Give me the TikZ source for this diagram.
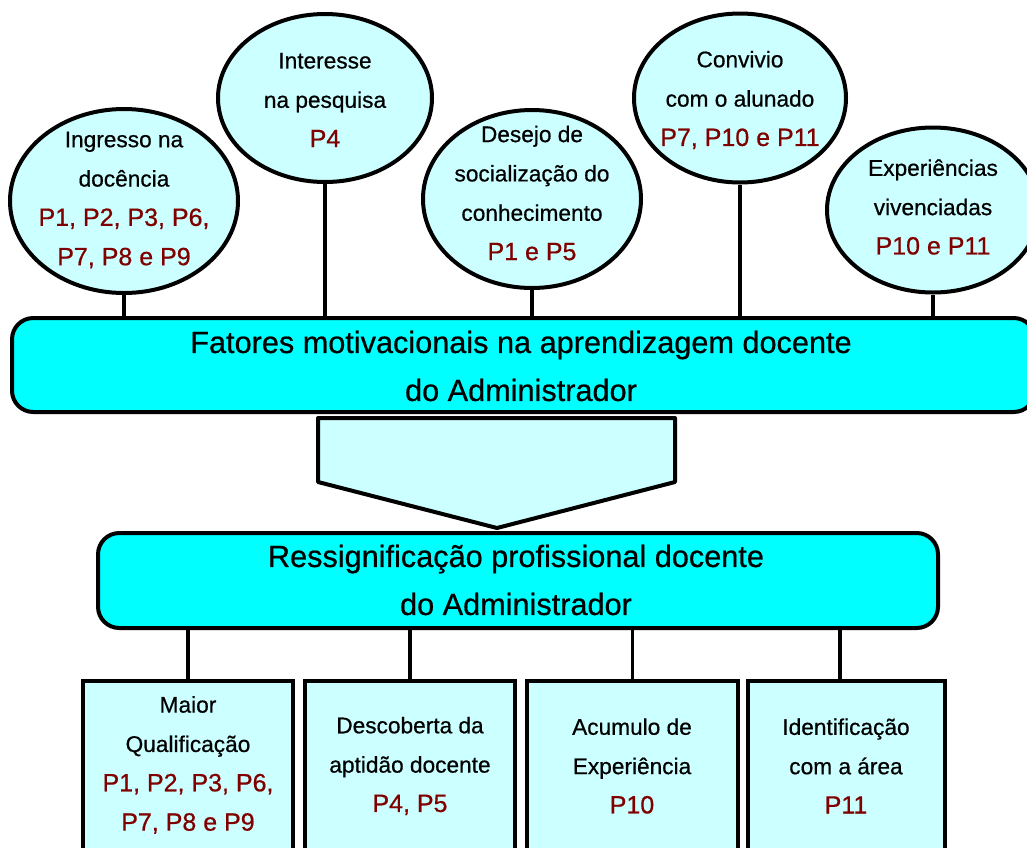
\documentclass[tikz,border=0pt]{standalone}
\usepackage{fontspec}
\setmainfont{Liberation Sans}[FakeBold=0.6]
\usetikzlibrary{shapes.geometric}

\definecolor{paleCyan}{RGB}{204,255,255}
\definecolor{bandCyan}{RGB}{0,255,255}
\definecolor{partRed}{RGB}{128,0,0}

\tikzset{every picture/.style={line width=0.75pt}}
\tikzset{
  bubble/.style={ellipse, draw, line width=3pt, fill=paleCyan, inner sep=0pt},
  band/.style={rectangle, rounded corners=16pt, draw, line width=3pt, fill=bandCyan, inner sep=0pt},
  box/.style={rectangle, draw, line width=3pt, fill=paleCyan, inner sep=0pt, minimum height=127.5pt},
  lbl/.style={align=center, inner sep=0pt, font=\fontsize{17}{29.5}\selectfont},
  bandlbl/.style={align=center, inner sep=0pt, font=\fontsize{23}{36}\selectfont},
  link/.style={line width=2.6pt},
}
\newcommand{\pnum}[1]{{\color{partRed}\fontsize{18.75}{29.5}\selectfont #1}}

\begin{document}
\begin{tikzpicture}[x=0.75pt,y=0.75pt,yscale=-1,xscale=1]
	\useasboundingbox (0,0) rectangle (1027,847);

	%Shape: Rounded Rect (motivational factors)
	\node[band, minimum width=767.25pt, minimum height=70.5pt] (r1) at (523.5,365) {};
	%Shape: Rounded Rect (professional resignification)
	\node[band, minimum width=630pt, minimum height=71.25pt] (r2) at (518,580.5) {};

	%Shape: Ellipse
	\node[bubble, minimum width=171pt, minimum height=138pt] (e1) at (124,201) {};
	\node[bubble, minimum width=160.5pt, minimum height=126pt] (e2) at (325,98) {};
	\node[bubble, minimum width=163.5pt, minimum height=133.5pt] (e3) at (532,199) {};
	\node[bubble, minimum width=159pt, minimum height=126.75pt] (e4) at (740,98) {};
	\node[bubble, minimum width=159pt, minimum height=123.75pt] (e5) at (933,210) {};

	%Straight Lines
	\draw[link] (e1.south) -- (e1.south |- r1.north);
	\draw[link] (e2.south) -- (e2.south |- r1.north);
	\draw[link] (e3.south) -- (e3.south |- r1.north);
	\draw[link] (e4.south) -- (e4.south |- r1.north);
	\draw[link] (e5.south) -- (e5.south |- r1.north);

	%Shape: Arrow down
	\draw[line width=3pt, fill=paleCyan, line join=round] (318,418) -- (675,418) -- (675,482) -- (497,528) -- (318,482) -- cycle;

	%Shape: Rectangle
	\node[box, minimum width=157.5pt] (b1) at (188,766) {};
	\node[box, minimum width=157.5pt] (b2) at (410,766) {};
	\node[box, minimum width=158.25pt] (b3) at (632.5,766) {};
	\node[box, minimum width=147.75pt] (b4) at (846.5,766) {};
	\coordinate (k4) at (840,0);

	%Straight Lines
	\draw[link] (r2.south -| b1.north) -- (b1.north);
	\draw[link] (r2.south -| b2.north) -- (b2.north);
	\draw[link] (r2.south -| b3.north) -- (b3.north);
	\draw[link] (r2.south -| k4) -- (b4.north -| k4);

	% Text Node
	\node[lbl] (t1) at (124,200) {Ingresso na\\docência\\\pnum{P1, P2, P3, P6,}\\\pnum{P7, P8 e P9}};
	% Text Node
	\node[lbl] (t2) at (325,100) {Interesse\\na pesquisa\\\pnum{P4}};
	% Text Node
	\node[lbl] (t3) at (532,193) {Desejo de\\socialização do\\conhecimento\\\pnum{P1 e P5}};
	% Text Node
	\node[lbl] (t4) at (740,100) {Convivio\\com o alunado\\\pnum{P7, P10 e P11}};
	% Text Node
	\node[lbl] (t5) at (933,207) {Experiências\\vivenciadas\\\pnum{P10 e P11}};
	% Text Node
	\node[bandlbl] (t6) at (521,366) {Fatores motivacionais na aprendizagem docente\\do Administrador};
	% Text Node
	\node[bandlbl] (t7) at (516,580) {Ressignificação profissional docente\\do Administrador};
	% Text Node
	\node[lbl] (t8) at (188,765) {Maior\\Qualificação\\\pnum{P1, P2, P3, P6,}\\\pnum{P7, P8 e P9}};
	% Text Node
	\node[lbl] (t9) at (410,766) {Descoberta da\\aptidão docente\\\pnum{P4, P5}};
	% Text Node
	\node[lbl] (t10) at (632,766) {Acumulo de\\Experiência\\\pnum{P10}};
	% Text Node
	\node[lbl] (t11) at (846,766) {Identificação\\com a área\\\pnum{P11}};

\end{tikzpicture}
\end{document}
